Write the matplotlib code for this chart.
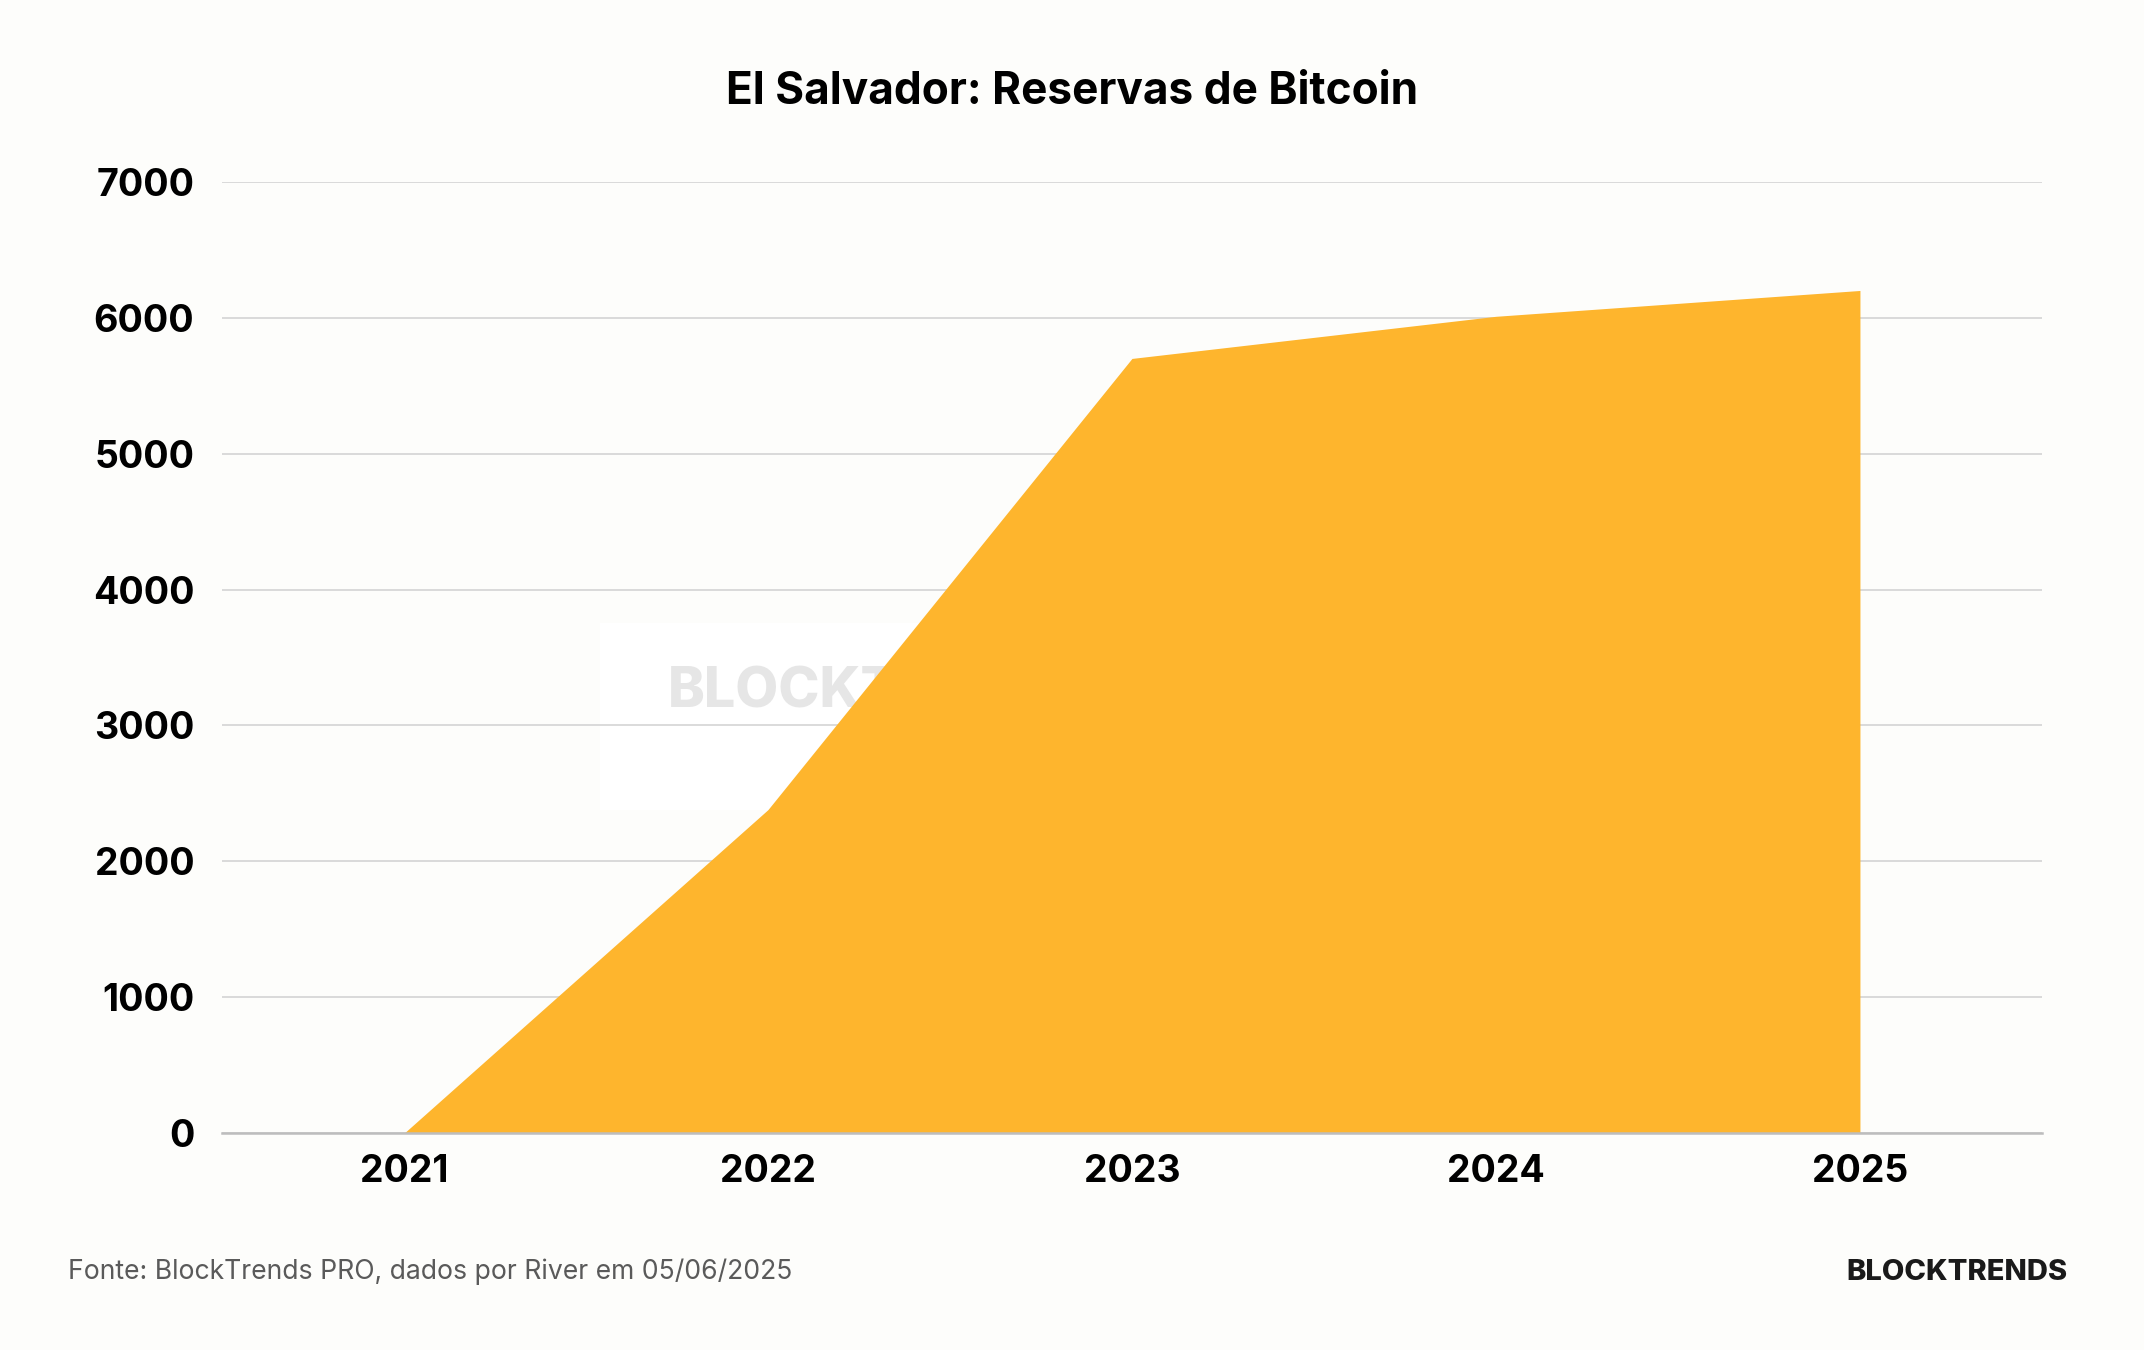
import matplotlib
matplotlib.use("Agg")
import matplotlib.pyplot as plt
from matplotlib.patches import Rectangle

years = [2021, 2022, 2023, 2024, 2025]
reserves = [0, 2381, 5700, 6010, 6200]
yticks = [0, 1000, 2000, 3000, 4000, 5000, 6000, 7000]

title = "El Salvador: Reservas de Bitcoin"
source = "Fonte: BlockTrends PRO, dados por River em 05/06/2025"
brand = "BLOCKTRENDS"

bg = "#fdfdfb"
orange = "#feb52d"

plt.rcParams['font.family'] = ['Inter', 'DejaVu Sans']

fig = plt.figure(figsize=(21.44, 13.5), dpi=100, facecolor=bg)
ax = fig.add_axes([0.1035, 0.1605, 0.8489, 0.7049])
ax.set_facecolor(bg)

# watermark box and text behind the area
ax.add_patch(Rectangle((0.2077, 0.3397), 0.31, 0.1966, transform=ax.transAxes,
                       facecolor="white", edgecolor="none", zorder=0))
ax.text(0.245, 0.4637, brand, transform=ax.transAxes, fontsize=40,
        fontweight='heavy', color="#e6e6e6", ha='left', va='center', zorder=1)

ax.fill_between(years, reserves, 0, color=orange, linewidth=0, zorder=3)

ax.set_xlim(2020.5, 2025.5)
ax.set_ylim(0, 7000)
ax.set_xticks(years)
ax.set_xticklabels([str(y) for y in years])
ax.set_yticks(yticks)
ax.set_yticklabels([str(v) for v in yticks])
ax.grid(axis='y', color="#d4d4d4", linewidth=1.2, zorder=2)
ax.set_axisbelow(False)
ax.grid(axis='x', visible=False)
for s in ['top', 'right', 'left']:
    ax.spines[s].set_visible(False)
ax.spines['bottom'].set_color("#bdbdbd")
ax.spines['bottom'].set_linewidth(1.8)
ax.spines['bottom'].set_zorder(4)
ax.tick_params(axis='both', length=0, labelsize=27, colors="#000000")
ax.tick_params(axis='y', pad=20)
ax.tick_params(axis='x', pad=15)
for lab in ax.get_xticklabels() + ax.get_yticklabels():
    lab.set_fontweight('bold')

fig.text(0.5, 1 - 92 / 1350, title, fontsize=31.8, fontweight='bold',
         color="#000000", ha='center', va='center')
fig.text(68 / 2144, 1 - 1272 / 1350, source, fontsize=19.1, color="#5a5a5a",
         ha='left', va='center')
fig.text(2068 / 2144, 1 - 1273 / 1350, brand, fontsize=21, fontweight='heavy',
         color="#1a1a1a", ha='right', va='center')

fig.savefig("out.png", dpi=100, facecolor=bg)
